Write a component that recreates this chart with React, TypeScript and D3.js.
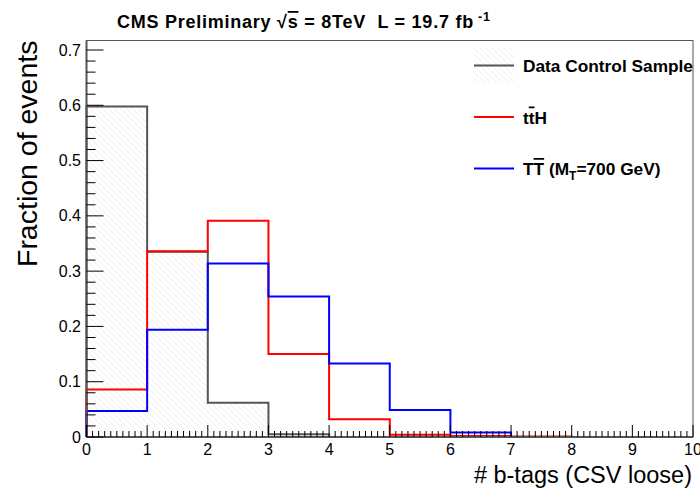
import React from "react";
import * as d3 from "d3";

const binEdges = [0, 1, 2, 3, 4, 5, 6, 7, 8, 9, 10];
const dataControl = [0.598, 0.335, 0.062, 0.005, 0, 0, 0, 0, 0, 0];
const ttH = [0.086, 0.336, 0.391, 0.15, 0.032, 0.004, 0.002, 0.001, 0, 0];
const tTbar = [0.047, 0.194, 0.314, 0.254, 0.133, 0.049, 0.008, 0, 0, 0];
const yTicks = [0, 0.1, 0.2, 0.3, 0.4, 0.5, 0.6, 0.7];
const xTicks = [0, 1, 2, 3, 4, 5, 6, 7, 8, 9, 10];

const W = 700;
const H = 488;
const L = 86.5, R = 693, T = 40.5, B = 437;

export default function App() {
  const x = d3.scaleLinear().domain([0, 10]).range([L, R]);
  const yMax = (B - T) / ((B - 50) / 0.7);
  const y = d3.scaleLinear().domain([0, yMax]).range([B, T]);

  const stepPath = (vals: number[], close: boolean) => {
    const pts: [number, number][] = [[0, 0]];
    vals.forEach((v, i) => {
      pts.push([binEdges[i], v]);
      pts.push([binEdges[i + 1], v]);
    });
    pts.push([10, 0]);
    const line = d3.line<[number, number]>().x((d) => x(d[0])).y((d) => y(d[1]));
    return line(pts) + (close ? "Z" : "");
  };

  const minorX = d3.range(0, 100.5, 1).map((d) => d / 10).filter((d) => Math.abs(d - Math.round(d)) > 1e-6);
  const minorY = d3.range(0, Math.floor(yMax * 50 + 1e-6) + 1).map((d) => d / 50).filter((d) => Math.abs(d * 10 - Math.round(d * 10)) > 1e-6);

  const font = "'Liberation Sans', Arial, Helvetica, sans-serif";

  return (
    <svg width={W} height={H} style={{ position: "absolute", left: 0, top: 0, background: "#fff" }} fontFamily={font}>
      <defs>
        <pattern id="hatch" patternUnits="userSpaceOnUse" width={6} height={6}>
          <path d="M-1,-1 L7,7 M-1,5 L1,7 M5,-1 L7,1" stroke="#e6e6e6" strokeWidth={0.6} />
        </pattern>
      </defs>
      <rect x={0} y={0} width={W} height={H} fill="#fff" />

      {/* title */}
      <text x={117} y={28} fontSize={18} letterSpacing={0.75} fontWeight="bold" fill="#000" xmlSpace="preserve" style={{ whiteSpace: "pre" }}>
        <tspan>CMS Preliminary </tspan>
        <tspan>√</tspan>
        <tspan textDecoration="overline">s</tspan>
        <tspan>{" = 8TeV  L = 19.7 fb"}</tspan>
        <tspan fontSize={12.5} dy={-7}>{" -1"}</tspan>
      </text>

      {/* hatched fill of data control */}
      <path d={stepPath(dataControl, true)} fill="url(#hatch)" stroke="none" />

      {/* frame */}
      <rect x={L} y={T} width={R - L} height={B - T} fill="none" stroke="#555" strokeWidth={1} />

      {/* histograms */}
      <path d={stepPath(dataControl, false)} fill="none" stroke="#555" strokeWidth={2} />
      <path d={stepPath(ttH, false)} fill="none" stroke="#ff0000" strokeWidth={2} />
      <path d={stepPath(tTbar, false)} fill="none" stroke="#0000ff" strokeWidth={2} />

      {/* axes lines */}
      <line x1={L} x2={L} y1={T} y2={B} stroke="#555" strokeWidth={2} />
      <line x1={L} x2={R} y1={B} y2={B} stroke="#555" strokeWidth={2} />

      {/* x ticks */}
      {xTicks.map((t) => (
        <line key={"xM" + t} x1={x(t)} x2={x(t)} y1={B} y2={B - 12} stroke="#000" strokeWidth={1} />
      ))}
      {minorX.map((t) => (
        <line key={"xm" + t} x1={x(t)} x2={x(t)} y1={B} y2={B - 6} stroke="#000" strokeWidth={1} />
      ))}
      {xTicks.map((t) => (
        <text key={"xl" + t} x={x(t)} y={455} fontSize={16} textAnchor="middle" fill="#000">
          {t}
        </text>
      ))}

      {/* y ticks */}
      {yTicks.map((t) => (
        <line key={"yM" + t} x1={L} x2={L + 17} y1={y(t)} y2={y(t)} stroke="#000" strokeWidth={1} />
      ))}
      {minorY.map((t) => (
        <line key={"ym" + t} x1={L} x2={L + 9} y1={y(t)} y2={y(t)} stroke="#000" strokeWidth={1} />
      ))}
      {yTicks.map((t) => (
        <text key={"yl" + t} x={81} y={y(t) + 5.5} fontSize={16} textAnchor="end" fill="#000">
          {t === 0 ? "0" : t.toFixed(1)}
        </text>
      ))}

      {/* axis titles */}
      <text transform={`translate(37,${T}) rotate(-90)`} fontSize={28.5} textAnchor="end" fill="#000">
        Fraction of events
      </text>
      <text x={692} y={483} fontSize={23.5} textAnchor="end" fill="#000">
        # b-tags (CSV loose)
      </text>

      {/* legend */}
      <rect x={474} y={48} width={40} height={35} fill="url(#hatch)" />
      <line x1={474} x2={514} y1={65.5} y2={65.5} stroke="#555" strokeWidth={2} />
      <text x={523} y={71.5} fontSize={17.3} fontWeight="bold" fill="#000">
        Data Control Sample
      </text>
      <line x1={474} x2={514} y1={117} y2={117} stroke="#ff0000" strokeWidth={2} />
      <text x={523} y={123.5} fontSize={17.3} fontWeight="bold" fill="#000">
        t<tspan textDecoration="overline">t</tspan>H
      </text>
      <line x1={474} x2={514} y1={168.5} y2={168.5} stroke="#0000ff" strokeWidth={2} />
      <text x={523} y={175} fontSize={17.3} fontWeight="bold" fill="#000">
        T<tspan textDecoration="overline">T</tspan>
        {" (M"}
        <tspan fontSize={12} dy={5}>T</tspan>
        <tspan dy={-5}>=700 GeV)</tspan>
      </text>
    </svg>
  );
}
